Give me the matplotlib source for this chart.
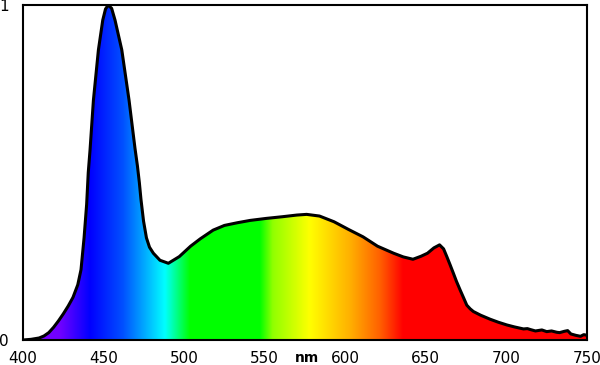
import matplotlib
matplotlib.use("Agg")
import matplotlib.pyplot as plt
import numpy as np
from matplotlib.colors import LinearSegmentedColormap
from matplotlib.patches import Polygon

# --- data ---
wavelength = [400, 405, 410, 413, 416, 419, 422, 425, 428, 431, 434, 436, 437.9, 439.5,
              440.5, 441.6, 443.7, 446.8, 449.5, 451.2, 452.9, 455, 457.1, 461.3,
              465.8, 469.5, 471, 472.2, 473.2, 474.8, 476.6, 478.5, 480.9, 485, 490.2,
              497, 504, 510, 518, 525, 533, 541, 551, 561,
              570, 576, 584, 593, 602, 611, 620, 630, 636, 642, 647, 651, 655,
              658.5, 661, 663, 665, 667.1, 669, 671.3, 673.5, 675.4, 677.5, 679.5, 684,
              689.9, 695, 700.2, 705, 710.6, 713, 715, 718, 722, 725, 728, 731.3,
              733, 736, 738, 740, 743, 746, 748, 750]
intensity = [0.0, 0.002, 0.006, 0.012, 0.022, 0.038, 0.057, 0.078, 0.101, 0.127, 0.165, 0.21,
             0.305, 0.405, 0.5, 0.567, 0.716, 0.866, 0.955, 0.988, 1.0, 0.99, 0.955, 0.866,
             0.716, 0.572, 0.52, 0.47, 0.42, 0.355, 0.305, 0.277, 0.259, 0.238, 0.229,
             0.249, 0.28, 0.302, 0.328, 0.342, 0.350, 0.357, 0.363, 0.368,
             0.373, 0.375, 0.37, 0.353, 0.33, 0.308, 0.28, 0.259, 0.248, 0.241, 0.25, 0.259, 0.275,
             0.284, 0.272, 0.249, 0.225, 0.199, 0.175, 0.149, 0.125, 0.104, 0.093, 0.085, 0.074,
             0.062, 0.053, 0.045, 0.039, 0.033, 0.034, 0.031, 0.027, 0.03, 0.025, 0.027, 0.023,
             0.022, 0.026, 0.028, 0.018, 0.014, 0.011, 0.016, 0.014]

color_nm = [400, 423, 441.6, 462, 488, 503.7, 547, 555, 578, 603, 621.6, 636, 750]
color_hex = ["#8000ff", "#7000ff", "#0000ff", "#0050ff", "#00ffff", "#00ff00", "#00ff00",
             "#90ff00", "#ffff00", "#ffb000", "#ff6000", "#ff0000", "#ff0000"]

x_ticks = [400, 450, 500, 550, 600, 650, 700, 750]
y_ticks = [0, 1]
x_label = "nm"
x_label_pos = 576

# --- figure ---
fig = plt.figure(figsize=(6.0, 3.65), dpi=100)
ax = fig.add_axes([23/600, 1 - 340/365, 564/600, 335/365])

xmin, xmax = 400, 750
cmap = LinearSegmentedColormap.from_list(
    "spec", [((c - xmin) / (xmax - xmin), h) for c, h in zip(color_nm, color_hex)], N=1024)

grad = np.linspace(0, 1, 1024).reshape(1, -1)
im = ax.imshow(grad, extent=[xmin, xmax, 0, 1], aspect="auto", cmap=cmap,
               origin="lower", interpolation="bilinear", zorder=1)

verts = list(zip(wavelength, intensity)) + [(wavelength[-1], 0), (wavelength[0], 0)]
poly = Polygon(verts, closed=True, facecolor="none", edgecolor="none",
               transform=ax.transData)
ax.add_patch(poly)
im.set_clip_path(poly)

ax.plot(wavelength, intensity, color="black", lw=2.2, zorder=3,
        solid_joinstyle="round", solid_capstyle="round")

ax.set_xlim(xmin, xmax)
ax.set_ylim(0, 1)
ax.set_xticks(x_ticks)
ax.set_yticks(y_ticks)
ax.tick_params(length=0, labelsize=11, pad=8)
ax.tick_params(axis="y", pad=10)
for s in ax.spines.values():
    s.set_linewidth(1.5)
    s.set_color("black")

ax.annotate(x_label, xy=(x_label_pos, 0), xycoords=("data", "axes fraction"),
            xytext=(0, -8), textcoords="offset points", ha="center", va="top",
            fontsize=10, fontweight="bold")

fig.savefig("out.png", dpi=100)
